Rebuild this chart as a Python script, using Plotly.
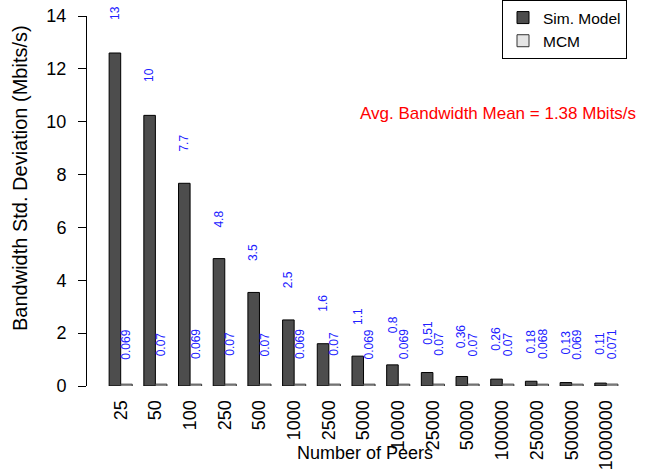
import plotly.graph_objects as go

peers = ["25", "50", "100", "250", "500", "1000", "2500", "5000", "10000",
         "25000", "50000", "100000", "250000", "500000", "1000000"]
sim_model = [12.6, 10.24, 7.67, 4.82, 3.54, 2.5, 1.6, 1.13, 0.8,
             0.51, 0.36, 0.26, 0.18, 0.13, 0.11]
mcm = [0.069, 0.07, 0.069, 0.07, 0.07, 0.069, 0.07, 0.069, 0.069,
       0.07, 0.07, 0.07, 0.068, 0.069, 0.071]
y_ticks = [0, 2, 4, 6, 8, 10, 12, 14]
mean_text = "Avg. Bandwidth Mean = 1.38 Mbits/s"

FONT = "Liberation Sans, Arial, Helvetica, sans-serif"
W, H = 658, 469
ML, MR, MT, MB = 87, 18, 16, 83
PW = W - ML - MR
PH = H - MT - MB
cat_px = 34.69
x0 = -(120.7 - ML) / cat_px
x1 = x0 + PW / cat_px

fig = go.Figure()
fig.add_trace(go.Bar(x=peers, y=sim_model, name="Sim. Model",
                     marker=dict(color="#4d4d4d", line=dict(color="black", width=1))))
fig.add_trace(go.Bar(x=peers, y=mcm, name="MCM",
                     marker=dict(color="#e5e5e5", line=dict(color="#333333", width=1))))

annotations = []
half = cat_px / 6.0
for i, (s, m) in enumerate(zip(sim_model, mcm)):
    for v, sh in ((s, -half), (m, half)):
        annotations.append(dict(x=i, y=v, xref="x", yref="y", text="{:.2g}".format(v),
                                textangle=-90, showarrow=False, xanchor="center",
                                yanchor="middle", xshift=sh, yshift=40,
                                font=dict(family=FONT, size=12, color="#2020ff")))

annotations.append(dict(x=(498 - ML) / PW, y=(H - MB - 113) / PH, xref="paper", yref="paper",
                        text=mean_text, showarrow=False, xanchor="center", yanchor="middle",
                        font=dict(family=FONT, size=17, color="#ff0000")))
annotations.append(dict(x=(365 - ML) / PW, y=-(453 - (H - MB)) / PH, xref="paper", yref="paper",
                        text="Number of Peers", showarrow=False, xanchor="center", yanchor="middle",
                        font=dict(family=FONT, size=18, color="black")))
annotations.append(dict(x=(20 - ML) / PW, y=(H - MB - 178) / PH, xref="paper", yref="paper",
                        text="Bandwidth Std. Deviation (Mbits/s)", textangle=-90, showarrow=False,
                        xanchor="center", yanchor="middle",
                        font=dict(family=FONT, size=20, color="black")))

fig.update_layout(
    width=W, height=H,
    margin=dict(l=ML, r=MR, t=MT, b=MB, autoexpand=False),
    paper_bgcolor="white", plot_bgcolor="white",
    barmode="group", bargap=1/3, bargroupgap=0,
    font=dict(family=FONT, size=18, color="black"),
    showlegend=True,
    legend=dict(x=(502 - ML) / PW, y=(H - MB - 0) / PH, xanchor="left", yanchor="top",
                bordercolor="black", borderwidth=1, bgcolor="white",
                font=dict(family=FONT, size=15.5, color="black"),
                itemwidth=30, tracegroupgap=0),
    annotations=annotations,
    xaxis=dict(type="category", range=[x0, x1], showline=False, showgrid=False,
               zeroline=False, tickangle=-90, ticks="outside", ticklen=6,
               tickcolor="rgba(0,0,0,0)", tickfont=dict(family=FONT, size=18),
               automargin=False),
    yaxis=dict(range=[0, 14], tickvals=y_ticks, showline=True, linecolor="black",
               linewidth=1, ticks="outside", ticklen=8, tickcolor="black",
               ticklabelstandoff=8,
               showgrid=False, zeroline=False, tickfont=dict(family=FONT, size=18),
               automargin=False),
)

fig.write_html("out.html", config={"displayModeBar": False},
               post_script="document.body.style.margin='0px';")
